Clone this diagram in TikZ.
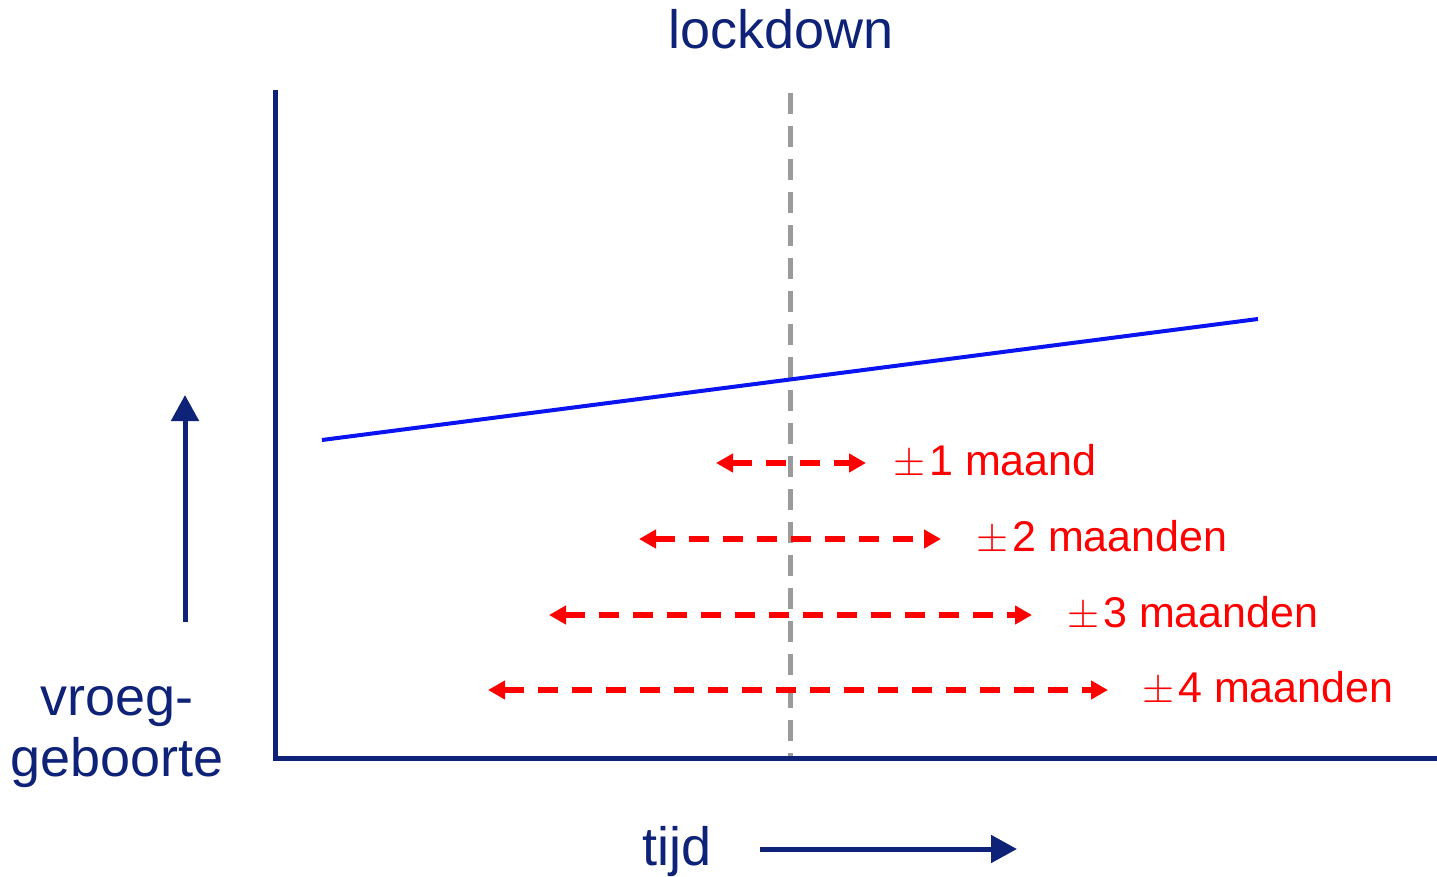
\documentclass[tikz,border=0pt]{standalone}
\usepackage{graphicx}
\usepackage{fontspec}
\setmainfont{Liberation Sans}
\usetikzlibrary{arrows.meta}
\definecolor{navy}{RGB}{14,34,120}
\definecolor{redc}{RGB}{255,0,0}
\definecolor{bluec}{RGB}{10,20,240}
\definecolor{grayc}{RGB}{155,155,155}
\newcommand{\pmsign}{\resizebox{32pt}{!}{$\pm$}\hspace{4pt}}
\tikzset{
  axisline/.style={navy, line width=5pt},
  navyarrow/.style={navy, line width=5pt, -{Triangle[length=26pt,width=27pt]}},
  redarrow/.style={redc, line width=5.5pt, dash pattern=on 20pt off 14pt,
     {Triangle[length=17pt,width=18pt]}-{Triangle[length=17pt,width=18pt]}},
  redlabel/.style={redc, anchor=base west, font=\fontsize{43}{46}\selectfont, inner sep=0pt},
  navylabel/.style={navy, anchor=base, font=\fontsize{54}{60}\selectfont, inner sep=0pt},
}
\begin{document}
\begin{tikzpicture}[x=1pt,y=-1pt]
\useasboundingbox (0,0) rectangle (1437,877);
% axes
\coordinate (ytop) at (275,93);
\coordinate (origin) at (275,758);
\coordinate (xend) at (1437,758);
\draw[axisline, line cap=rect] (ytop) -- (origin) -- (xend);
% lockdown line
\coordinate (ldtop) at (790,93);
\coordinate (ldbot) at (790,756);
\draw[grayc, line width=5pt, dash pattern=on 21pt off 12pt] (ldtop) -- (ldbot);
\node[navylabel] (lockdown) at (781,49) {lockdown};
% blue trend
\coordinate (b1) at (322,440);
\coordinate (b2) at (1258,319);
\draw[bluec, line width=4pt] (b1) -- (b2);
% red ranges
\coordinate (r1a) at (716,463); \coordinate (r1b) at (866,463);
\coordinate (r2a) at (639,539); \coordinate (r2b) at (941,539);
\coordinate (r3a) at (549,615); \coordinate (r3b) at (1032,615);
\coordinate (r4a) at (488,690); \coordinate (r4b) at (1108,690);
\draw[redarrow] (r1a) -- (r1b);
\draw[redarrow] (r2a) -- (r2b);
\draw[redarrow] (r3a) -- (r3b);
\draw[redarrow] (r4a) -- (r4b);
\node[redlabel] (t1) at (893,475) {\pmsign 1 maand};
\node[redlabel] (t2) at (976,551) {\pmsign 2 maanden};
\node[redlabel] (t3) at (1067,627) {\pmsign 3 maanden};
\node[redlabel] (t4) at (1142,702) {\pmsign 4 maanden};
% y label and arrow
\coordinate (ua) at (185,622);
\coordinate (ub) at (185,395);
\draw[navyarrow] (ua) -- (ub);
\node[navylabel] (ylab1) at (117,715) {vroeg-};
\node[navylabel] (ylab2) at (117,776) {geboorte};
% x label and arrow
\coordinate (ra) at (760,849);
\coordinate (rb) at (1017,849);
\draw[navyarrow] (ra) -- (rb);
\node[navylabel] (xlab) at (677,865) {tijd};
\end{tikzpicture}
\end{document}
